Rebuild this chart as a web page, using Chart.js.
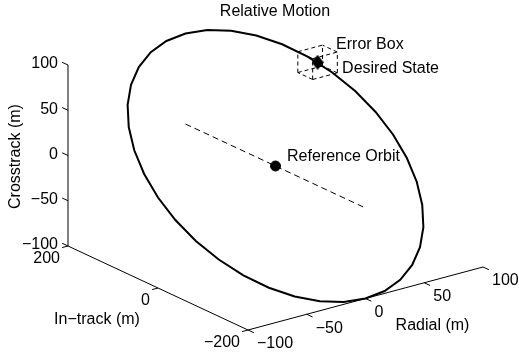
<!DOCTYPE html>
<html>
<head>
<meta charset="utf-8">
<script src="https://cdn.jsdelivr.net/npm/chart.js@4.4.1/dist/chart.umd.min.js"></script>
<style>
  html, body { margin: 0; padding: 0; background: #fff; }
  #wrap { width: 519px; height: 356px; }
</style>
</head>
<body>
<div id="wrap"><canvas id="motionChart" width="519" height="356"></canvas></div>
<script>
// Relative orbit samples, metres (radial, in-track, crosstrack)
const orbitRadial = [100, 98.5, 94.0, 86.6, 76.6, 64.3, 50, 34.2, 17.4, 0, -17.4, -34.2, -50, -64.3, -76.6, -86.6, -94.0, -98.5,
    -100, -98.5, -94.0, -86.6, -76.6, -64.3, -50, -34.2, -17.4, 0, 17.4, 34.2, 50, 64.3, 76.6, 86.6, 94.0, 98.5, 100];
const orbitInTrack = [0, -34.7, -68.4, -100, -128.6, -153.2, -173.2, -187.9, -197.0, -200, -197.0, -187.9, -173.2, -153.2, -128.6, -100, -68.4, -34.7,
    0, 34.7, 68.4, 100, 128.6, 153.2, 173.2, 187.9, 197.0, 200, 197.0, 187.9, 173.2, 153.2, 128.6, 100, 68.4, 34.7, 0];
const orbitCross = [0, -17.4, -34.2, -50, -64.3, -76.6, -86.6, -94.0, -98.5, -100, -98.5, -94.0, -86.6, -76.6, -64.3, -50, -34.2, -17.4,
    0, 17.4, 34.2, 50, 64.3, 76.6, 86.6, 94.0, 98.5, 100, 98.5, 94.0, 86.6, 76.6, 64.3, 50, 34.2, 17.4, 0];

// dashed in-track line through the reference orbit
const refLineInTrack = [200, -200];

const referenceOrbit = [0, 0, 0];
const desiredState = [81, 118, 59];
const errorBoxHalf = [10.5, 16.5, 11.5];

// axis box limits and ticks
const radialLim = [-100, 100];
const inTrackLim = [-200, 200];
const crossLim = [-100, 100];
const radialTicks = [-100, -50, 0, 50, 100];
const inTrackTicks = [-200, 0, 200];
const crossTicks = [-100, -50, 0, 50, 100];

// view: how one metre along each axis shows up on the page
const view = { ox: 275.5, oy: 166, r: [1.175, -0.315], i: [-0.45, -0.21], c: [0, -0.905] };

function project(r, i, c) {
    return {
        x: view.ox + view.r[0] * r + view.i[0] * i + view.c[0] * c,
        y: view.oy + view.r[1] * r + view.i[1] * i + view.c[1] * c
    };
}

function lineSet(points, width, dash) {
    return {
        data: points.map(p => project(p[0], p[1], p[2])),
        showLine: true,
        borderColor: '#000',
        borderWidth: width,
        borderDash: dash || [],
        pointRadius: 0,
        fill: false,
        clip: false
    };
}

function tickText(v) {
    return v < 0 ? '\u2212' + Math.abs(v) : String(v);
}

// diamond marker for the desired state
const diamond = document.createElement('canvas');
diamond.width = 12;
diamond.height = 15;
(function () {
    const g = diamond.getContext('2d');
    g.fillStyle = '#000';
    g.beginPath();
    g.moveTo(6, 0);
    g.lineTo(12, 7.5);
    g.lineTo(6, 15);
    g.lineTo(0, 7.5);
    g.closePath();
    g.fill();
})();

const datasets = [];

// markers on top
datasets.push({
    data: [project(...desiredState)],
    pointStyle: diamond,
    pointRadius: 7,
    clip: false
});
datasets.push({
    data: [project(...referenceOrbit)],
    pointStyle: 'circle',
    pointRadius: 5,
    backgroundColor: '#000',
    borderColor: '#000',
    clip: false
});

// orbit
datasets.push(lineSet(orbitRadial.map((r, k) => [r, orbitInTrack[k], orbitCross[k]]), 2));

// reference line
datasets.push(lineSet(refLineInTrack.map(i => [0, i, 0]), 1, [6, 4]));

// error box edges
const [dr, di, dc] = errorBoxHalf;
const corners = [];
[-1, 1].forEach(a => [-1, 1].forEach(b => [-1, 1].forEach(c => {
    corners.push([desiredState[0] + a * dr, desiredState[1] + b * di, desiredState[2] + c * dc, a, b, c]);
})));
corners.forEach((p, m) => {
    corners.forEach((q, n) => {
        if (n <= m) return;
        const diff = Math.abs(p[3] - q[3]) + Math.abs(p[4] - q[4]) + Math.abs(p[5] - q[5]);
        if (diff === 2) datasets.push(lineSet([p, q], 1, [4, 3]));
    });
});

// axis lines
datasets.push(lineSet([[radialLim[0], inTrackLim[1], crossLim[0]], [radialLim[0], inTrackLim[1], crossLim[1]]], 1));
datasets.push(lineSet([[radialLim[0], inTrackLim[1], crossLim[0]], [radialLim[0], inTrackLim[0], crossLim[0]]], 1));
datasets.push(lineSet([[radialLim[0], inTrackLim[0], crossLim[0]], [radialLim[1], inTrackLim[0], crossLim[0]]], 1));

// tick marks, pointing out of the box
crossTicks.forEach(c => datasets.push(lineSet([[radialLim[0], inTrackLim[1], c], [radialLim[0], inTrackLim[1] + 13, c]], 1)));
inTrackTicks.forEach(i => datasets.push(lineSet([[radialLim[0], i, crossLim[0]], [radialLim[0] - 5, i, crossLim[0]]], 1)));
radialTicks.forEach(r => datasets.push(lineSet([[r, inTrackLim[0], crossLim[0]], [r, inTrackLim[0] - 13, crossLim[0]]], 1)));

const FONT = '16px "Liberation Sans", Arial, sans-serif';

const labelsPlugin = {
    id: 'labels3d',
    afterDraw(chart) {
        const ctx = chart.ctx;
        const sx = chart.scales.x, sy = chart.scales.y;
        const at = (r, i, c) => {
            const p = project(r, i, c);
            return { x: sx.getPixelForValue(p.x), y: sy.getPixelForValue(p.y) };
        };
        ctx.save();
        ctx.fillStyle = '#000';
        ctx.font = FONT;
        ctx.textBaseline = 'middle';

        // crosstrack ticks
        ctx.textAlign = 'right';
        crossTicks.forEach(c => {
            const p = at(radialLim[0], inTrackLim[1], c);
            ctx.fillText(tickText(c), p.x - 10, p.y - 1);
        });
        // in-track ticks
        inTrackTicks.forEach(i => {
            const p = at(radialLim[0], i, crossLim[0]);
            ctx.fillText(tickText(i), p.x - 8, p.y + 13);
        });
        // radial ticks
        ctx.textAlign = 'left';
        radialTicks.forEach(r => {
            const p = at(r, inTrackLim[0], crossLim[0]);
            ctx.fillText(tickText(r), p.x + 9, p.y + 14);
        });

        // axis titles
        ctx.textAlign = 'center';
        const inMid = at(radialLim[0], 0, crossLim[0]);
        ctx.fillText('In\u2212track (m)', inMid.x - 61, inMid.y + 32);
        const rMid = at(0, inTrackLim[0], crossLim[0]);
        ctx.fillText('Radial (m)', rMid.x + 67, rMid.y + 27);
        const cMid = at(radialLim[0], inTrackLim[1], 0);
        ctx.save();
        ctx.translate(cMid.x - 52, cMid.y + 1);
        ctx.rotate(-Math.PI / 2);
        ctx.fillText('Crosstrack (m)', 0, 0);
        ctx.restore();

        // title
        ctx.fillText('Relative Motion', 275, 12);

        // annotations
        ctx.textAlign = 'left';
        const ds = at(...desiredState);
        ctx.fillText('Error Box', ds.x + 18.5, ds.y - 18);
        ctx.fillText('Desired State', ds.x + 24.5, ds.y + 6);
        const ro = at(...referenceOrbit);
        ctx.fillText('Reference Orbit', ro.x + 11.5, ro.y - 9);
        ctx.restore();
    }
};

new Chart(document.getElementById('motionChart'), {
    type: 'scatter',
    data: { datasets: datasets },
    options: {
        responsive: false,
        devicePixelRatio: 1,
        animation: false,
        layout: { padding: 0, autoPadding: false },
        plugins: {
            legend: { display: false },
            tooltip: { enabled: false },
            title: { display: false }
        },
        scales: {
            x: { type: 'linear', display: false, min: 0, max: 519 },
            y: { type: 'linear', display: false, min: 0, max: 356, reverse: true }
        }
    },
    plugins: [labelsPlugin]
});
</script>
</body>
</html>
